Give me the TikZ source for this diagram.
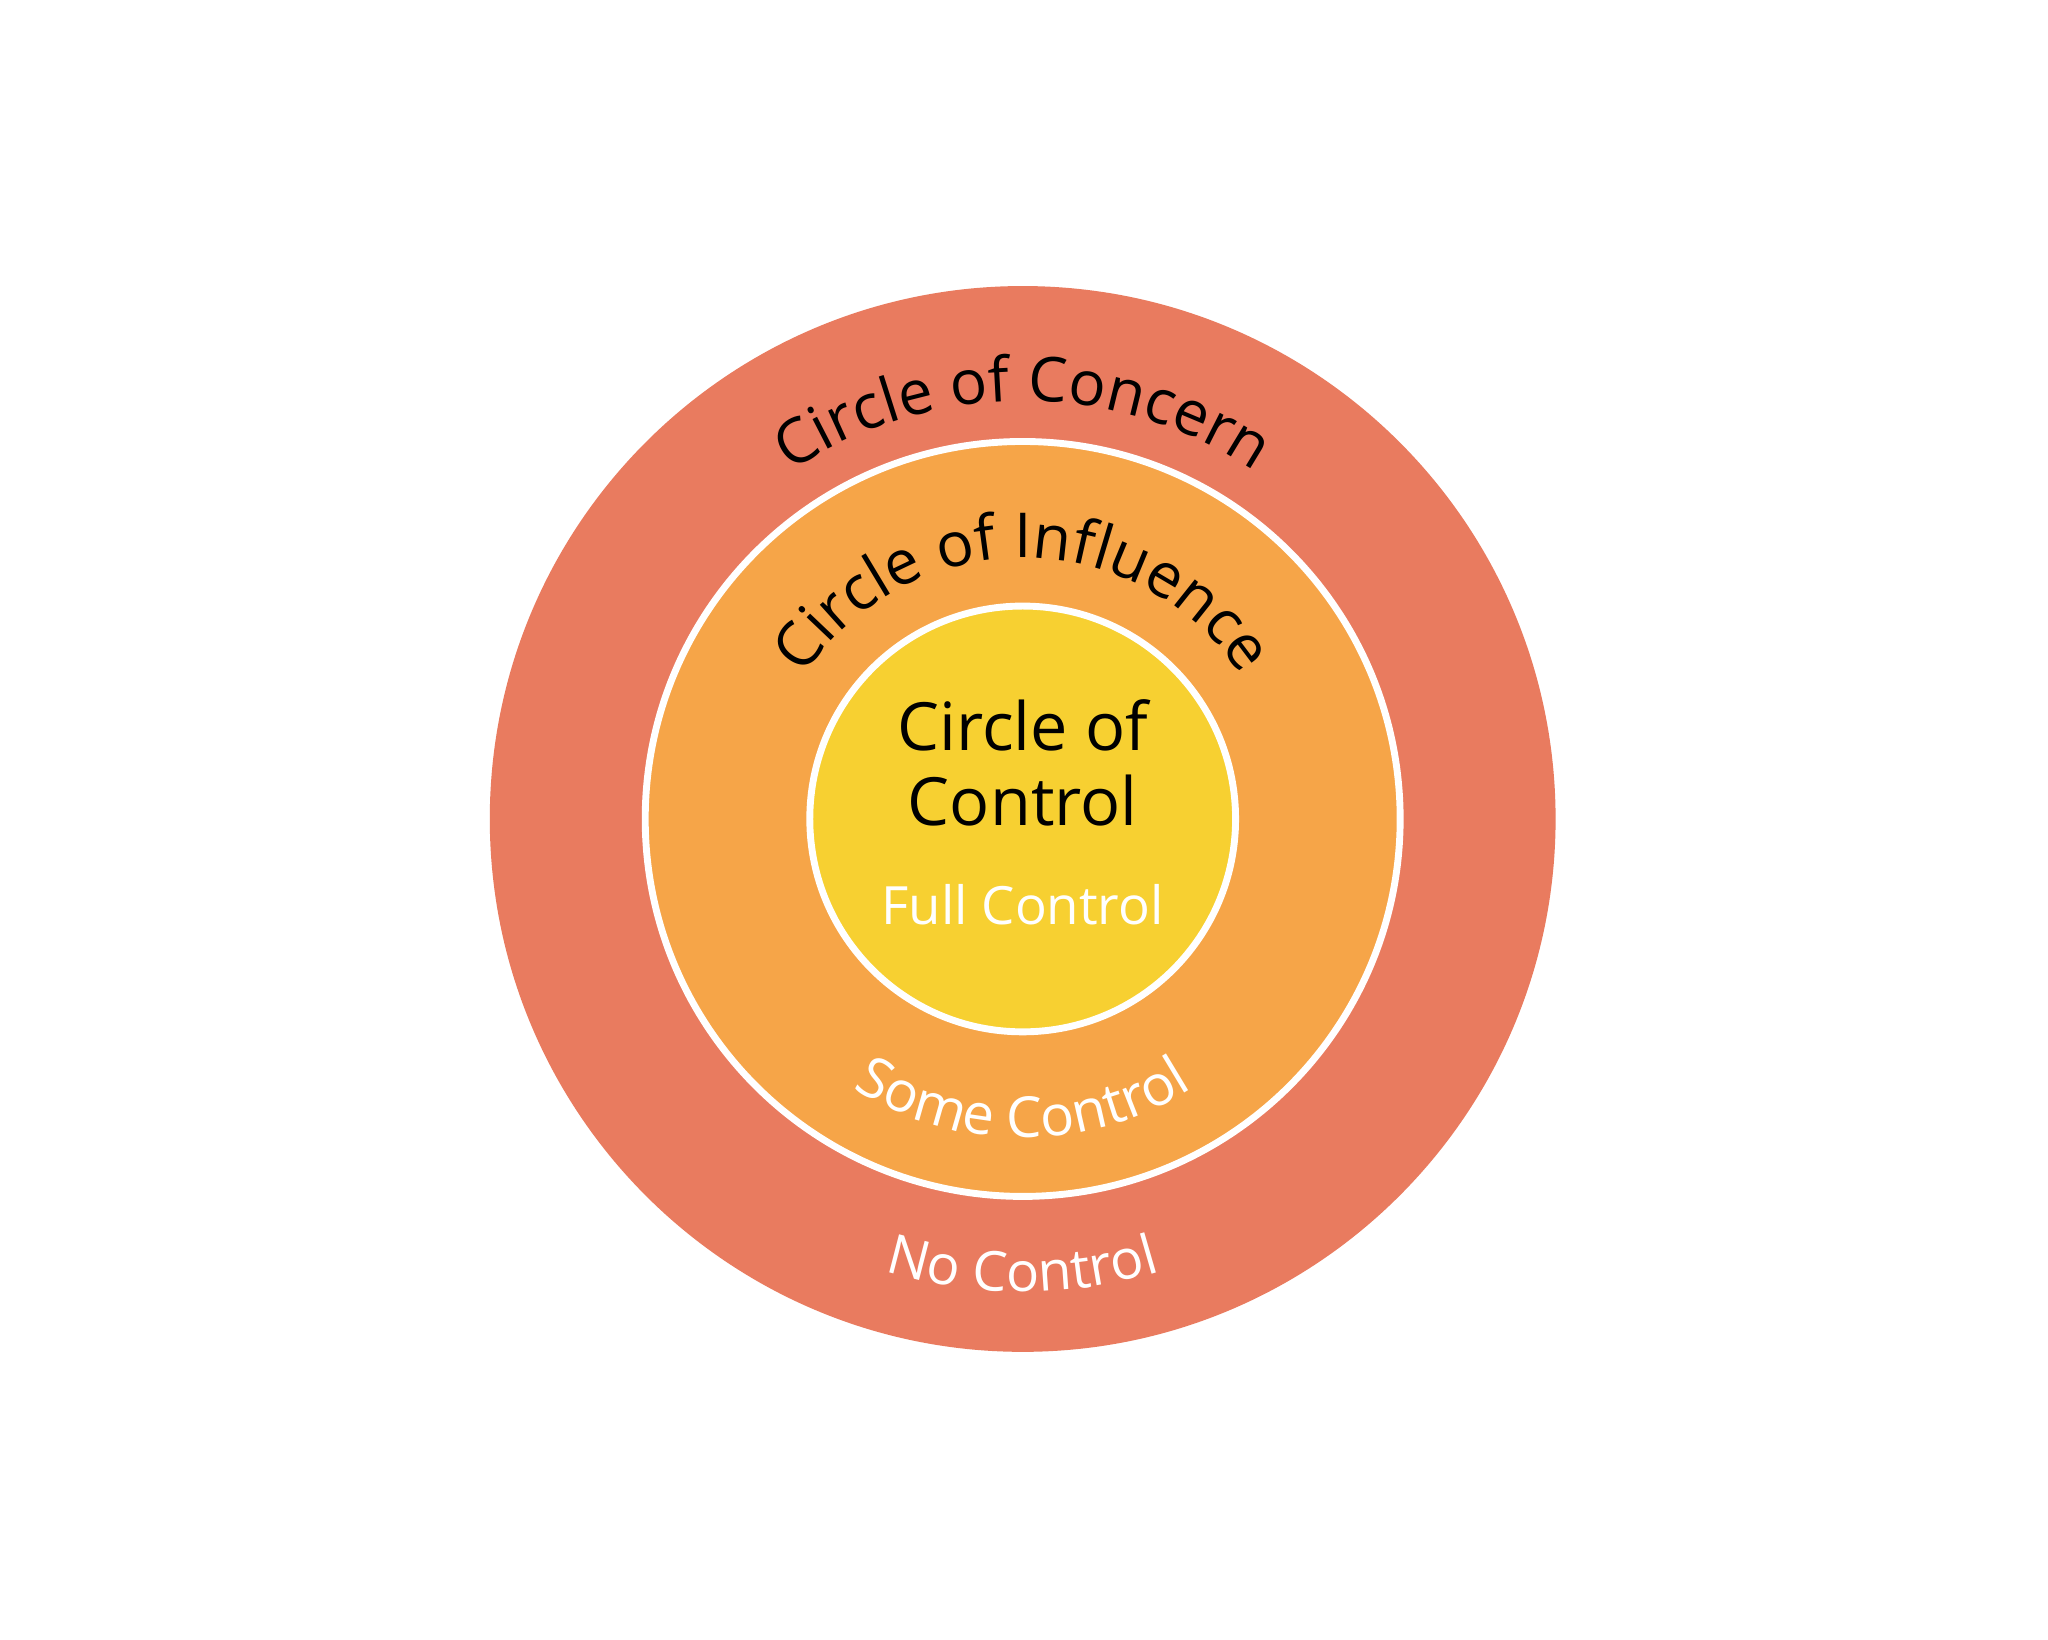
\documentclass[tikz,border=0pt]{standalone}
\usepackage{fontspec}
\setmainfont{Open Sans}
\usetikzlibrary{decorations.text}
\definecolor{cOut}{HTML}{E97B5F}
\definecolor{cMid}{HTML}{F6A548}
\definecolor{cIn}{HTML}{F7D031}
\tikzset{ring/.style={draw=white,line width=1.5pt},
 curved/.style={decorate,decoration={text along path,text align=center,text={#1}}}}
\begin{document}
\begin{tikzpicture}
\useasboundingbox[fill=white] (-7.83,-6.28) rectangle (7.85,6.27);
\node[circle,fill=cOut,minimum size=8.16cm,inner sep=0] (outer) at (0,0) {};
\node[circle,ring,fill=cMid,minimum size=5.78cm,inner sep=0] (mid) at (0,0) {};
\node[circle,ring,fill=cIn,minimum size=3.26cm,inner sep=0] (inner) at (0,0) {};
\path[curved={|\fontsize{13.5}{16}\selectfont|Circle of Concern}] (148:3.2cm) arc[start angle=148,end angle=32,radius=3.2cm];
\path[curved={|\fontsize{13.5}{16}\selectfont|Circle of Influence}] (160:2.0cm) arc[start angle=160,end angle=20,radius=2.0cm];
\path[decorate,decoration={text along path,text align=center,text color=white,text={|\fontsize{12.3}{14}\selectfont|Some Control}}] (215:2.44cm) arc[start angle=215,end angle=325,radius=2.44cm];
\path[decorate,decoration={text along path,text align=center,text color=white,text={|\fontsize{12}{14}\selectfont|No Control}}] (235:3.62cm) arc[start angle=235,end angle=305,radius=3.62cm];
\node[align=center,font=\fontsize{14.5}{16.5}\selectfont] (cc) at (0,0.43) {Circle of\\Control};
\node[text=white,font=\fontsize{11.5}{14}\selectfont] (fc) at (0,-0.66) {Full Control};
\end{tikzpicture}
\end{document}
